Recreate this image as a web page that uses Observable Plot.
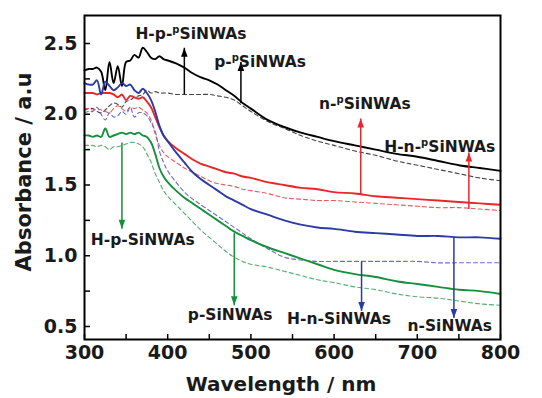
<!DOCTYPE html>
<html>
<head>
<meta charset="utf-8">
<script src="https://cdn.jsdelivr.net/npm/d3@7"></script>
<script src="https://cdn.jsdelivr.net/npm/@observablehq/plot@0.6"></script>
<style>
  html, body { margin: 0; padding: 0; background: #fff; }
  svg { display: block; }
</style>
</head>
<body>
<div id="chart"></div>
<script>
// Wavelength grid (nm)
const wavelength = [300,305,310,315,320,325,330,335,340,345,350,355,360,365,370,375,380,385,390,395,400,410,420,430,440,450,460,470,480,490,500,520,540,560,580,600,625,650,675,700,725,750,775,800];

// Solid curves
const hpPSolid = [2.31,2.32,2.32,2.33,2.30,2.17,2.37,2.22,2.34,2.20,2.37,2.38,2.42,2.40,2.47,2.44,2.40,2.39,2.41,2.39,2.38,2.36,2.33,2.29,2.26,2.24,2.21,2.17,2.13,2.08,2.04,1.96,1.91,1.87,1.84,1.81,1.78,1.75,1.72,1.70,1.67,1.64,1.62,1.60];
const nPSolid  = [2.15,2.15,2.15,2.14,2.15,2.15,2.15,2.14,2.12,2.14,2.10,2.13,2.12,2.11,2.12,2.09,2.05,1.98,1.91,1.85,1.81,1.76,1.72,1.68,1.65,1.63,1.61,1.59,1.58,1.56,1.55,1.52,1.50,1.48,1.47,1.45,1.44,1.42,1.41,1.40,1.39,1.38,1.37,1.36];
const nSolid   = [2.22,2.21,2.21,2.24,2.14,2.23,2.20,2.17,2.19,2.22,2.20,2.21,2.17,2.15,2.18,2.15,2.10,2.02,1.92,1.85,1.81,1.73,1.66,1.59,1.54,1.50,1.46,1.42,1.39,1.36,1.33,1.29,1.25,1.22,1.20,1.19,1.17,1.16,1.15,1.14,1.14,1.13,1.13,1.12];
const hpSolid  = [1.85,1.85,1.84,1.85,1.84,1.90,1.84,1.85,1.86,1.87,1.86,1.87,1.86,1.87,1.85,1.84,1.80,1.72,1.62,1.56,1.52,1.46,1.41,1.37,1.33,1.29,1.25,1.21,1.17,1.14,1.11,1.06,1.02,0.98,0.94,0.90,0.87,0.85,0.82,0.80,0.78,0.76,0.75,0.73];

// Dashed curves
const pPDashed  = [2.03,2.04,2.04,2.02,2.01,2.03,2.06,2.08,2.07,2.05,2.09,2.10,2.12,2.13,2.14,2.17,2.15,2.16,2.15,2.15,2.15,2.14,2.14,2.14,2.14,2.14,2.13,2.12,2.10,2.06,2.02,1.95,1.90,1.85,1.81,1.78,1.74,1.71,1.67,1.64,1.61,1.58,1.55,1.53];
const hnPDashed = [2.04,2.04,2.03,2.04,2.03,2.02,2.01,2.04,2.06,2.04,2.02,2.05,2.04,2.05,2.03,2.01,1.96,1.86,1.78,1.73,1.70,1.66,1.62,1.59,1.56,1.53,1.51,1.50,1.49,1.47,1.46,1.44,1.41,1.40,1.39,1.39,1.38,1.37,1.36,1.35,1.34,1.34,1.33,1.32];
const hnDashed  = [2.01,2.02,2.02,2.05,2.00,1.96,2.01,1.98,1.99,2.02,2.00,2.05,1.98,2.01,2.01,1.99,1.94,1.88,1.74,1.66,1.60,1.52,1.45,1.40,1.36,1.32,1.28,1.24,1.20,1.16,1.12,1.05,0.99,0.97,0.96,0.96,0.96,0.96,0.96,0.96,0.95,0.95,0.95,0.95];
const pDashed   = [1.78,1.78,1.78,1.77,1.78,1.77,1.75,1.77,1.77,1.78,1.79,1.80,1.80,1.79,1.77,1.72,1.66,1.58,1.52,1.46,1.42,1.36,1.30,1.24,1.18,1.13,1.08,1.03,0.99,0.96,0.94,0.92,0.89,0.86,0.83,0.81,0.78,0.76,0.73,0.71,0.70,0.68,0.66,0.65];

const seriesNames  = ["hpPSolid","nPSolid","nSolid","hpSolid","pPDashed","hnPDashed","hnDashed","pDashed"];
const seriesValues = [hpPSolid, nPSolid, nSolid, hpSolid, pPDashed, hnPDashed, hnDashed, pDashed];
const seriesColors = ["#000000","#e8262b","#2b3aa6","#16903c","#444444","#e85a5e","#6b6fc4","#56ad6f"];
const seriesDashed = [false,false,false,false,true,true,true,true];

// Arrows
const arrowX     = [420, 488, 632, 762, 345, 480, 633, 744];
const arrowFrom  = [2.14, 2.08, 1.43, 1.33, 1.80, 1.16, 0.96, 1.13];
const arrowTo    = [2.47, 2.37, 1.97, 1.73, 1.19, 0.65, 0.61, 0.56];
const arrowColor = ["#000000","#000000","#e8262b","#e8262b","#16903c","#16903c","#2b3aa6","#2b3aa6"];

// Labels ({p} = superscript p)
const labelText = ["H-p-{p}SiNWAs","p-{p}SiNWAs","n-{p}SiNWAs","H-n-{p}SiNWAs","H-p-SiNWAs","p-SiNWAs","H-n-SiNWAs","n-SiNWAs"];
const labelX    = [428, 511, 637, 727, 370, 475, 606, 739];
const labelY    = [2.57, 2.37, 2.07, 1.77, 1.11, 0.58, 0.55, 0.50];

// Ticks
const xMajor = [300,400,500,600,700,800];
const xMinor = [350,450,550,650,750];
const yMajor = [0.5,1.0,1.5,2.0,2.5];
const yMinor = [0.75,1.25,1.75,2.25];

const lineData = [];
seriesValues.forEach((vals, s) => {
  vals.forEach((v, i) => lineData.push({wl: wavelength[i], a: v, s: seriesNames[s]}));
});
const solidData = lineData.filter(d => !seriesDashed[seriesNames.indexOf(d.s)]);
const dashedData = lineData.filter(d => seriesDashed[seriesNames.indexOf(d.s)]);
const colorOf = d => seriesColors[seriesNames.indexOf(d.s)];

const arrows = arrowX.map((x, i) => ({x, y1: arrowFrom[i], y2: arrowTo[i], c: arrowColor[i]}));
const labels = labelText.map((t, i) => ({t, x: labelX[i], y: labelY[i]}));

function triMarker(color) {
  const ns = "http://www.w3.org/2000/svg";
  const m = document.createElementNS(ns, "marker");
  m.setAttribute("viewBox", "-10 -5 10 10");
  m.setAttribute("markerWidth", 10);
  m.setAttribute("markerHeight", 10);
  m.setAttribute("markerUnits", "userSpaceOnUse");
  m.setAttribute("orient", "auto");
  m.setAttribute("refX", 0);
  m.setAttribute("refY", 0);
  const p = document.createElementNS(ns, "path");
  p.setAttribute("d", "M-9,-3.3L0,0L-9,3.3Z");
  p.setAttribute("fill", color);
  m.appendChild(p);
  return m;
}

const font = "'DejaVu Sans', sans-serif";

const plot = Plot.plot({
  width: 542,
  height: 398,
  marginLeft: 84,
  marginRight: 42,
  marginTop: 15,
  marginBottom: 59,
  style: {fontFamily: font, background: "#fff"},
  x: {domain: [300, 800]},
  y: {domain: [0.408, 2.698]},
  marks: [
    Plot.line(dashedData, {x: "wl", y: "a", z: "s", stroke: colorOf, strokeWidth: 1.1, strokeDasharray: "4,3", curve: "catmull-rom"}),
    Plot.line(solidData, {x: "wl", y: "a", z: "s", stroke: colorOf, strokeWidth: 1.9, curve: "catmull-rom"}),
    Plot.link(arrows, {x1: "x", x2: "x", y1: "y1", y2: "y2", stroke: "c", strokeWidth: 1.5, markerEnd: triMarker}),
    Plot.text(labels, {x: "x", y: "y", text: "t", fontSize: 15.5, fontWeight: "bold", fill: "#1a1a1a", textAnchor: "middle"}),
    Plot.axisX({ticks: xMajor.concat(xMinor), tickSize: -5, tickFormat: null, text: null, strokeWidth: 1.5}),
    Plot.axisX({ticks: xMajor, tickSize: 0, tickPadding: 6, fontSize: 19, fontWeight: "bold", fill: "#1a1a1a", label: null}),
    Plot.axisY({ticks: yMajor.concat(yMinor), tickSize: -6, text: null, strokeWidth: 1.5}),
    Plot.axisY({ticks: yMajor, tickSize: 0, tickPadding: 7, fontSize: 19, fontWeight: "bold", fill: "#1a1a1a", tickFormat: d3.format(".1f"), label: null}),
    Plot.frame({stroke: "#000", strokeWidth: 2})
  ]
});

// axis titles
const svg = d3.select(plot);
svg.append("text")
  .attr("x", 281).attr("y", 391)
  .attr("text-anchor", "middle")
  .attr("font-family", font).attr("font-weight", "bold").attr("font-size", 20)
  .attr("fill", "#1a1a1a")
  .text("Wavelength / nm");
svg.append("text")
  .attr("transform", "translate(31,172) rotate(-90)")
  .attr("text-anchor", "middle")
  .attr("font-family", font).attr("font-weight", "bold").attr("font-size", 21)
  .attr("fill", "#1a1a1a")
  .text("Absorbance / a.u");

// superscript handling
svg.selectAll("text").each(function() {
  const t = this.textContent;
  if (t.includes("{p}") && this.childElementCount === 0) {
    const [a, b] = t.split("{p}");
    const el = d3.select(this);
    el.text(null);
    el.append("tspan").text(a);
    el.append("tspan").attr("dy", -6).attr("font-size", 10).text("p");
    el.append("tspan").attr("dy", 6).text(b);
  }
});

document.getElementById("chart").appendChild(plot);
</script>
</body>
</html>
